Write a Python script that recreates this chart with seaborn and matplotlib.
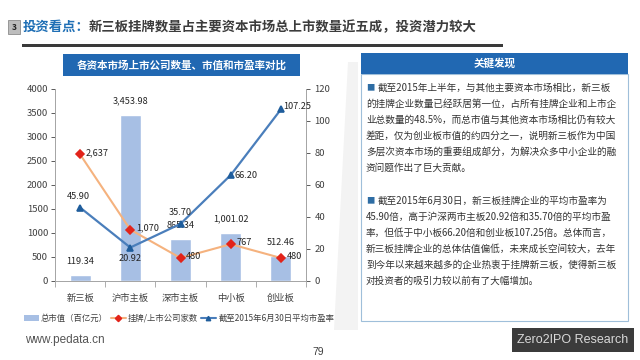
import numpy as np
import matplotlib
matplotlib.use('Agg')
import matplotlib.pyplot as plt
from matplotlib.patches import Rectangle, Patch, Polygon
from matplotlib.lines import Line2D
import seaborn as sns

# data
markets = ['新三板', '沪市主板', '深市主板', '中小板', '创业板']
market_value = [119.34, 3453.98, 865.34, 1001.02, 512.46]     # 总市值（百亿元）
listed_count = [2637, 1070, 480, 767, 480]                    # 挂牌/上市公司家数
pe_ratio = [45.90, 20.92, 35.70, 66.20, 107.25]               # 平均市盈率

left_ticks = [0, 500, 1000, 1500, 2000, 2500, 3000, 3500, 4000]
right_ticks = [0, 20, 40, 60, 80, 100, 120]

paragraph1 = [
    '截至2015年上半年，与其他主要资本市场相比，新三板',
    '的挂牌企业数量已经跃居第一位，占所有挂牌企业和上市企',
    '业总数量的48.5%，而总市值与其他资本市场相比仍有较大',
    '差距，仅为创业板市值的约四分之一，说明新三板作为中国',
    '多层次资本市场的重要组成部分，为解决众多中小企业的融',
    '资问题作出了巨大贡献。',
]
paragraph2 = [
    '截至2015年6月30日，新三板挂牌企业的平均市盈率为',
    '45.90倍，高于沪深两市主板20.92倍和35.70倍的平均市盈',
    '率，但低于中小板66.20倍和创业板107.25倍。总体而言，',
    '新三板挂牌企业的总体估值偏低，未来成长空间较大，去年',
    '到今年以来越来越多的企业热衷于挂牌新三板，使得新三板',
    '对投资者的吸引力较以前有了大幅增加。',
]

sns.set_theme(style='white')
plt.rcParams['font.family'] = ['Noto Sans CJK SC', 'DejaVu Sans']

W, H = 640, 360
bar_c = '#A7BFE4'
orange = '#F5B27E'
red = '#E2231A'
blue = '#4A7EBB'
dark_blue = '#1F5D9C'
head_blue = '#2168B2'
txt = '#333333'


def fx(px):
    return px / W


def fy(py):
    return 1 - py / H


fig = plt.figure(figsize=(6.4, 3.6), dpi=100)
fig.patch.set_facecolor('white')

# ---- page header
fig.patches.append(Rectangle((fx(8), fy(34)), fx(12), 14 / H, transform=fig.transFigure,
                             facecolor='#BDBDBD', edgecolor='#8C8C8C', lw=0.6))
fig.text(fx(14), fy(27), '3', ha='center', va='center', fontsize=6, color='#222222',
         fontweight='bold')
fig.text(fx(23), fy(27), '投资看点：', ha='left', va='center', fontsize=9.6,
         color='#1F6FB5', fontweight='bold')
fig.text(fx(89), fy(27), '新三板挂牌数量占主要资本市场总上市数量近五成，投资潜力较大',
         ha='left', va='center', fontsize=9.6, color='#3C3C3C', fontweight='bold')
fig.patches.append(Rectangle((fx(22), fy(47)), fx(481), 3 / H, transform=fig.transFigure,
                             facecolor='#3A3A3A', edgecolor='none'))

# ---- chart title bar
fig.patches.append(Rectangle((fx(63), fy(76)), fx(237), 22 / H, transform=fig.transFigure,
                             facecolor=head_blue, edgecolor='none'))
fig.text(fx(181.5), fy(65), '各资本市场上市公司数量、市值和市盈率对比', ha='center', va='center',
         fontsize=7.6, color='white', fontweight='bold')

# ---- main chart
ax = fig.add_axes([fx(55), fy(281), fx(251), 192 / H])
sns.barplot(x=markets, y=market_value, ax=ax, color=bar_c, width=0.42, saturation=1,
            errorbar=None, zorder=2)
sns.pointplot(x=markets, y=listed_count, ax=ax, color=orange, markers='D', errorbar=None,
              linewidth=1.5, markersize=4.5)
cnt_line = ax.lines[-1]
cnt_line.set_markerfacecolor(red)
cnt_line.set_markeredgecolor(red)
cnt_line.set_zorder(4)

ax.set_ylim(0, 4000)
ax.set_yticks(left_ticks)
ax.set_xlim(-0.5, len(markets) - 0.5)
ax.set_xlabel('')
ax.set_ylabel('')
ax.tick_params(axis='y', labelsize=6.8, colors='#404040', length=3, width=0.6,
               direction='out', left=True, pad=2)
ax.tick_params(axis='x', labelsize=6.7, colors='#404040', length=0, pad=9)
ax.set_xticks(np.arange(-0.5, len(markets)), minor=True)
ax.tick_params(axis='x', which='minor', length=4, width=0.6, color='#A0A0A0', bottom=True)
for s in ['left', 'bottom', 'right']:
    ax.spines[s].set_color('#A6A6A6')
    ax.spines[s].set_linewidth(0.7)
ax.spines['top'].set_visible(False)

for i, v in enumerate(market_value):
    ax.annotate(f'{v:,.2f}', (i, v), xytext=(0, 7), textcoords='offset points',
                ha='center', va='bottom', fontsize=6.6, color='#262626')
for i, v in enumerate(listed_count):
    ax.annotate(f'{v:,}', (i, v), xytext=(4, 1), textcoords='offset points',
                ha='left', va='center', fontsize=6.6, color='#262626', zorder=6)

ax2 = ax.twinx()
sns.pointplot(x=markets, y=pe_ratio, ax=ax2, color=blue, markers='^', errorbar=None,
              linewidth=1.6, markersize=4.2)
pe_line = ax2.lines[-1]
pe_line.set_markerfacecolor(dark_blue)
pe_line.set_markeredgecolor(dark_blue)
ax2.set_ylim(0, 120)
ax2.set_yticks(right_ticks)
ax2.set_xlim(-0.5, len(markets) - 0.5)
ax2.set_ylabel('')
ax2.grid(False)
ax2.tick_params(axis='y', labelsize=6.8, colors='#404040', length=3, width=0.6,
                direction='out', right=True, pad=3)
for s in ['left', 'bottom', 'right']:
    ax2.spines[s].set_color('#A6A6A6')
    ax2.spines[s].set_linewidth(0.7)
ax2.spines['top'].set_visible(False)

pe_offsets = [((-1, 5), 'center', 'bottom'), ((0, -5), 'center', 'top'),
              ((0, 5), 'center', 'bottom'), ((3, 0), 'left', 'center'),
              ((2, 2), 'left', 'center')]
for i, v in enumerate(pe_ratio):
    off, ha, va = pe_offsets[i]
    ax2.annotate(f'{v:.2f}', (i, v), xytext=off, textcoords='offset points',
                 ha=ha, va=va, fontsize=6.6, color='#262626')

handles = [
    Patch(facecolor=bar_c, edgecolor='none'),
    Line2D([], [], color=orange, lw=1.5, marker='D', markersize=3.2,
           markerfacecolor=red, markeredgecolor=red),
    Line2D([], [], color=blue, lw=1.5, marker='^', markersize=3.2,
           markerfacecolor=dark_blue, markeredgecolor=dark_blue),
]
labels = ['总市值（百亿元）', '挂牌/上市公司家数', '截至2015年6月30日平均市盈率']
fig.legend(handles, labels, loc='center left', bbox_to_anchor=(fx(16), fy(318)), ncol=3,
           frameon=False, fontsize=6.0, handlelength=1.8, handletextpad=0.3,
           columnspacing=0.3, labelcolor='#404040')

fig.text(fx(25), fy(340), 'www.pedata.cn', ha='left', va='center', fontsize=8.5,
         color='#555555', family=['Liberation Sans', 'DejaVu Sans'])
fig.text(fx(318), fy(352), '79', ha='center', va='center', fontsize=7.5, color='#404040',
         family=['Liberation Sans', 'DejaVu Sans'])

# ---- right panel
fig.patches.append(Polygon([(fx(348), fy(62)), (fx(358), fy(62)), (fx(358), fy(330)),
                            (fx(334), fy(330))], closed=True, transform=fig.transFigure,
                           facecolor='#F3F3F3', edgecolor='none', zorder=5))
fig.patches.append(Rectangle((fx(361), fy(321)), fx(267), 247 / H, transform=fig.transFigure,
                             facecolor='white', edgecolor='#9FBFDA', lw=0.8, zorder=5))
fig.patches.append(Rectangle((fx(361), fy(74)), fx(267), 21 / H, transform=fig.transFigure,
                             facecolor=head_blue, edgecolor='none', zorder=5))
fig.text(fx(494.5), fy(63.5), '关键发现', ha='center', va='center', fontsize=7.6,
         color='white', fontweight='bold', zorder=6)

for block, y0 in [(paragraph1, 88), (paragraph2, 201)]:
    fig.text(fx(366), fy(y0), '■', ha='left', va='center', fontsize=6, color='#2E6DA4',
             zorder=6)
    for k, line in enumerate(block):
        x0 = 378 if k == 0 else 366
        fig.text(fx(x0), fy(y0 + 16 * k), line, ha='left', va='center', fontsize=6.95,
                 color=txt, zorder=6)

fig.patches.append(Rectangle((fx(512), fy(352)), fx(122), 24 / H, transform=fig.transFigure,
                             facecolor='#3B3B3B', edgecolor='none', zorder=5))
fig.text(fx(573), fy(340), 'Zero2IPO Research', ha='center', va='center', fontsize=9,
         color='#D9D9D9', zorder=6, family=['Liberation Sans', 'DejaVu Sans'])

fig.savefig('out.png', dpi=100, facecolor='white')
